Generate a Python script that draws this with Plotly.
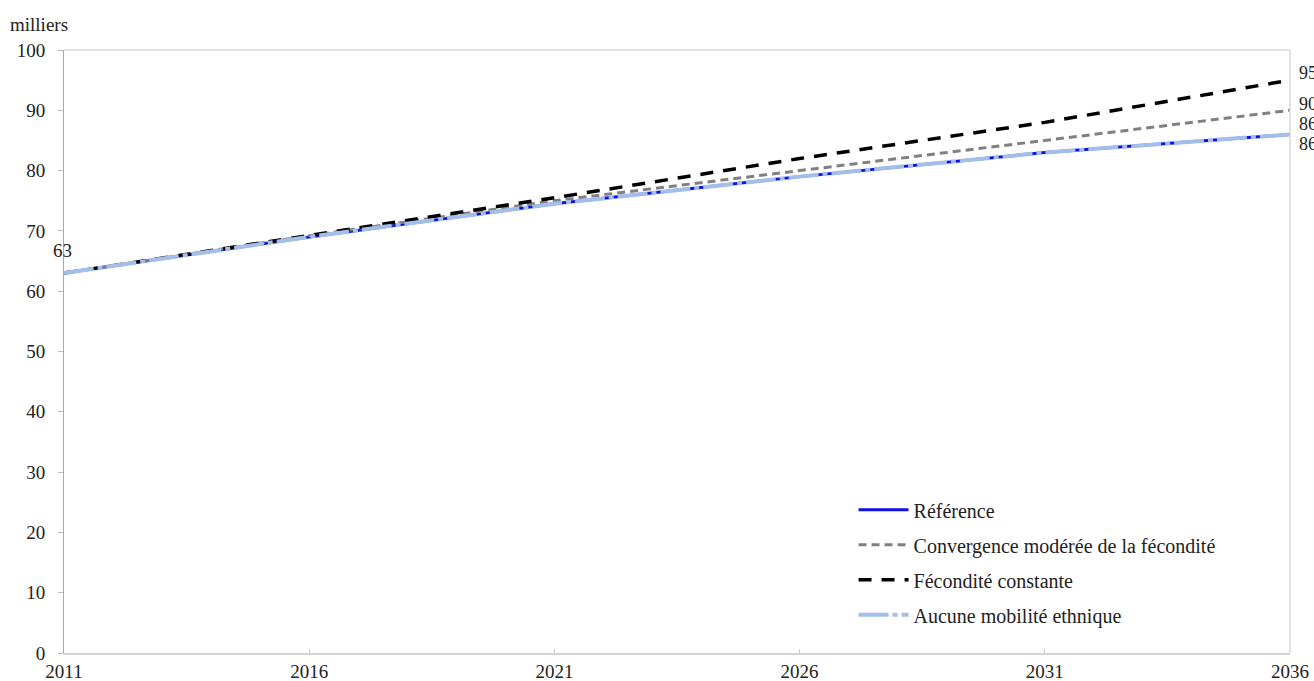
import plotly.graph_objects as go

# Population projection, in thousands
years = [2011, 2016, 2021, 2026, 2031, 2036]
reference = [63, 69, 74.5, 79, 83, 86]
convergence = [63, 69.2, 75, 80, 85, 90]
fecondite_constante = [63, 69.3, 75.5, 82, 88, 95]
aucune_mobilite = [63, 69, 74.5, 79, 83, 86]

series_names = ["Référence", "Convergence modérée de la fécondité",
                "Fécondité constante", "Aucune mobilité ethnique"]
end_labels = ["86", "90", "95", "86"]
y_ticks = list(range(0, 101, 10))
x_ticks = [2011, 2016, 2021, 2026, 2031, 2036]

FONT = "Liberation Serif"
TXT = "#222222"

fig = go.Figure()

fig.add_trace(go.Scatter(x=years, y=reference, mode="lines", name=series_names[0],
                         legendgroup="a",
                         line=dict(color="#1010E8", width=3)))
fig.add_trace(go.Scatter(x=years, y=convergence, mode="lines", name=series_names[1],
                         legendgroup="b",
                         line=dict(color="#808080", width=3, dash="8px,5px")))
fig.add_trace(go.Scatter(x=years, y=fecondite_constante, mode="lines", name=series_names[2],
                         legendgroup="c",
                         line=dict(color="#000000", width=3.5, dash="13px,10px")))
fig.add_trace(go.Scatter(x=years, y=aucune_mobilite, mode="lines", name=series_names[3],
                         legendgroup="d",
                         line=dict(color="#A4BEEA", width=4, dash="30px,4px,5px,4px")))

# start label
fig.add_annotation(x=years[0], y=reference[0], text="63", showarrow=False,
                   xanchor="center", yshift=23, xshift=-2,
                   font=dict(family=FONT, size=19, color=TXT))

# end labels (cut by the page edge, as in the original)
ends = [(fecondite_constante[-1], end_labels[2], 7),
        (convergence[-1], end_labels[1], 6),
        (reference[-1], end_labels[0], 10),
        (aucune_mobilite[-1], end_labels[3], -10)]
for val, txt, shift in ends:
    fig.add_annotation(x=years[-1], y=val, text=txt, showarrow=False,
                       xanchor="left", xshift=7, yshift=shift,
                       font=dict(family=FONT, size=18, color=TXT))

fig.add_annotation(x=-0.046, y=1.043, xref="paper", yref="paper", text="milliers",
                   showarrow=False, xanchor="left", yanchor="middle",
                   font=dict(family=FONT, size=19, color=TXT))

# frame lines on top and right
fig.add_shape(type="line", xref="paper", yref="paper", x0=0, x1=1, y0=1, y1=1,
              line=dict(color="#D9D9D9", width=1.5))
fig.add_shape(type="line", xref="paper", yref="paper", x0=1, x1=1, y0=0, y1=1,
              line=dict(color="#D9D9D9", width=1.5))

fig.update_layout(
    width=1314, height=681,
    margin=dict(l=64, r=24, t=50, b=28, autoexpand=False),
    plot_bgcolor="white", paper_bgcolor="white",
    font=dict(family=FONT, size=19, color=TXT),
    showlegend=True,
    legend=dict(x=0.644, y=0.27, xanchor="left", yanchor="top",
                bgcolor="rgba(0,0,0,0)", tracegroupgap=6,
                itemwidth=50, font=dict(family=FONT, size=20, color=TXT)),
    xaxis=dict(range=[2011, 2036], tickvals=x_ticks, showgrid=False, zeroline=False,
               showline=True, linecolor="#D4D4D4", linewidth=2, automargin=False,
               ticks="inside", ticklen=4, tickcolor="#C8C8C8",
               tickfont=dict(family=FONT, size=19)),
    yaxis=dict(range=[0, 100], tickvals=y_ticks, showgrid=False, zeroline=False,
               showline=True, linecolor="#A8A8A8", linewidth=1, automargin=False,
               ticks="outside", ticklen=5, tickcolor="#BBBBBB", ticklabelstandoff=9,
               tickfont=dict(family=FONT, size=19)),
)

# the page has a default 8px body margin; drop it so the figure sits at 0,0
fig.write_html("out.html", config={"displayModeBar": False},
               post_script="document.body.style.margin='0';")
